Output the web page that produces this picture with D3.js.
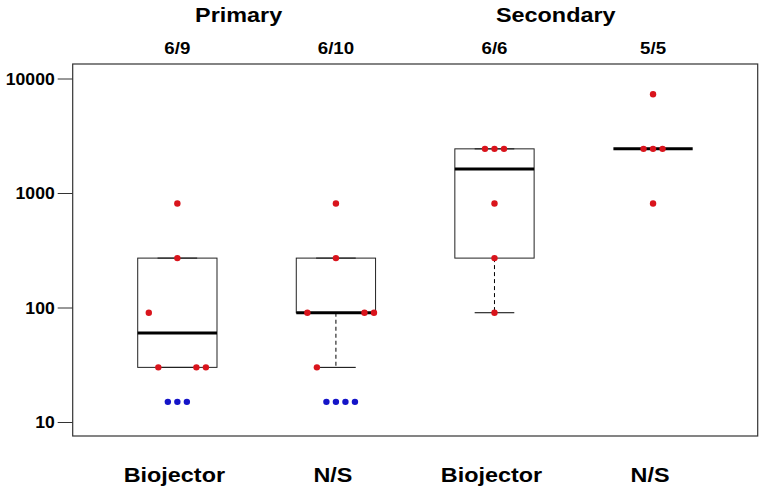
<!DOCTYPE html>
<html>
<head>
<meta charset="utf-8">
<script src="https://cdn.jsdelivr.net/npm/d3@7"></script>
<style>
  html, body { margin: 0; padding: 0; background: #fff; }
  svg { display: block; }
  text { font-family: "Liberation Sans", Arial, sans-serif; font-weight: bold; fill: #000; }
</style>
</head>
<body>
<svg id="chart" width="768" height="492"></svg>
<script>
// ---------- data ----------
const groupLabels = ["Biojector", "N/S", "Biojector", "N/S"];
const ratioLabels = ["6/9", "6/10", "6/6", "5/5"];
const phaseLabels = ["Primary", "Secondary"];
const phaseGroups = [[1, 2], [3, 4]];
const yTickValues = [10, 100, 1000, 10000];

// responders (red) titres per group
const responders1 = [810, 270, 90, 30, 30, 30];
const responders2 = [810, 270, 90, 90, 90, 30];
const responders3 = [2430, 2430, 2430, 810, 270, 90];
const responders4 = [7290, 2430, 2430, 2430, 810];
// non-responders (blue), plotted below detection limit
const nonResponders1 = [15, 15, 15];
const nonResponders2 = [15, 15, 15, 15];
const nonResponders3 = [];
const nonResponders4 = [];
// jitter slot (side-by-side index) for each point
const respSlots1 = [0, 0, -3, -2, 2, 3];
const respSlots2 = [0, 0, -3, 3, 4, -2];
const respSlots3 = [-1, 0, 1, 0, 0, 0];
const respSlots4 = [0, -1, 0, 1, 0];
const nonSlots1 = [-1, 0, 1];
const nonSlots2 = [-1, 0, 1, 2];
const nonSlots3 = [];
const nonSlots4 = [];

const responders = [responders1, responders2, responders3, responders4];
const nonResponders = [nonResponders1, nonResponders2, nonResponders3, nonResponders4];
const respSlots = [respSlots1, respSlots2, respSlots3, respSlots4];
const nonSlots = [nonSlots1, nonSlots2, nonSlots3, nonSlots4];

// ---------- layout ----------
const frame = { left: 72.7, right: 757.7, top: 64, bottom: 436 };
const svg = d3.select("#chart");

const x = d3.scaleLinear().domain([0.34, 4.66]).range([frame.left, frame.right]);
const y = d3.scaleLog().domain([10, 10000]).range([422, 78.5]);
const boxHalf = 0.25, capHalf = 0.125, slotW = 0.06;
const STRETCH = 1.17;

function fivenum(v) {
  const s = v.slice().sort((a, b) => a - b);
  const n = s.length;
  const n4 = Math.floor((n + 3) / 2) / 2;
  const d = [1, n4, (n + 1) / 2, n + 1 - n4, n];
  return d.map(di => 0.5 * (s[Math.floor(di) - 1] + s[Math.ceil(di) - 1]));
}
function boxStats(v) {
  const [mn, q1, med, q3, mx] = fivenum(v);
  const iqr = q3 - q1;
  const lo = q1 - 1.5 * iqr, hi = q3 + 1.5 * iqr;
  const inside = v.filter(d => d >= lo && d <= hi);
  return { q1, med, q3, wlo: d3.min(inside), whi: d3.max(inside) };
}

// frame
svg.append("rect")
  .attr("x", frame.left).attr("y", frame.top)
  .attr("width", frame.right - frame.left).attr("height", frame.bottom - frame.top)
  .attr("fill", "none").attr("stroke", "#333").attr("stroke-width", 1.2);

// y axis
const yAxis = d3.axisLeft(y).tickValues(yTickValues).tickFormat(d3.format("d")).tickSize(15).tickPadding(3);
const gy = svg.append("g").attr("transform", `translate(${frame.left},0)`).call(yAxis);
gy.select(".domain").remove();
gy.selectAll(".tick line").attr("stroke", "#333");
gy.selectAll(".tick text")
  .style("font-size", "16px")
  .attr("x", null)
  .attr("transform", `translate(-18,0) scale(1.1,1)`)
  .attr("dy", "0.36em");

// boxes
responders.forEach((vals, i) => {
  const g = i + 1;
  const st = boxStats(vals);
  const G = svg.append("g");
  G.append("line").attr("x1", x(g)).attr("x2", x(g)).attr("y1", y(st.q1)).attr("y2", y(st.wlo))
    .attr("stroke", "#000").attr("stroke-dasharray", "4,3");
  G.append("line").attr("x1", x(g)).attr("x2", x(g)).attr("y1", y(st.q3)).attr("y2", y(st.whi))
    .attr("stroke", "#000").attr("stroke-dasharray", "4,3");
  [st.wlo, st.whi].forEach(w => {
    G.append("line").attr("x1", x(g - capHalf)).attr("x2", x(g + capHalf))
      .attr("y1", y(w)).attr("y2", y(w)).attr("stroke", "#000");
  });
  G.append("rect").attr("x", x(g - boxHalf)).attr("y", y(st.q3))
    .attr("width", x(g + boxHalf) - x(g - boxHalf)).attr("height", Math.max(0, y(st.q1) - y(st.q3)))
    .attr("fill", "none").attr("stroke", "#222").attr("stroke-width", 1);
  G.append("line").attr("x1", x(g - boxHalf)).attr("x2", x(g + boxHalf))
    .attr("y1", y(st.med)).attr("y2", y(st.med)).attr("stroke", "#000").attr("stroke-width", 3);
});

// points
responders.forEach((vals, i) => {
  svg.append("g").selectAll("circle").data(vals).join("circle")
    .attr("cx", (d, j) => x(i + 1 + respSlots[i][j] * slotW))
    .attr("cy", d => y(d)).attr("r", 3.2)
    .attr("fill", "#d9141c");
});
nonResponders.forEach((vals, i) => {
  svg.append("g").selectAll("circle").data(vals).join("circle")
    .attr("cx", (d, j) => x(i + 1 + nonSlots[i][j] * slotW))
    .attr("cy", d => y(d)).attr("r", 3.2)
    .attr("fill", "#1414c8");
});

// bottom group labels
groupLabels.forEach((t, i) => {
  svg.append("text").attr("text-anchor", "middle")
    .attr("transform", `translate(${x(i + 1) - 3},481.5) scale(${STRETCH},1)`)
    .style("font-size", "20px").text(t);
});
// ratio labels
ratioLabels.forEach((t, i) => {
  svg.append("text").attr("text-anchor", "middle")
    .attr("transform", `translate(${x(i + 1)},54) scale(1.1,1)`)
    .style("font-size", "17px").text(t);
});
// phase labels
phaseLabels.forEach((t, i) => {
  const cx = d3.mean(phaseGroups[i].map(g => x(g))) - 18;
  svg.append("text").attr("text-anchor", "middle")
    .attr("transform", `translate(${cx},22) scale(${STRETCH},1)`)
    .style("font-size", "20px").text(t);
});
</script>
</body>
</html>
